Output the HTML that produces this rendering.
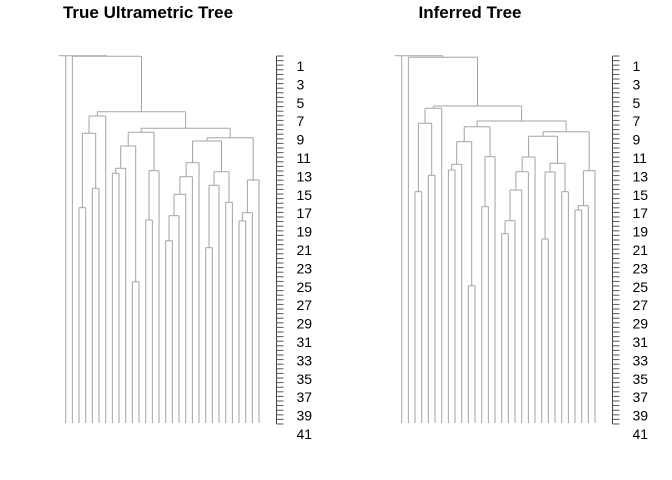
<!DOCTYPE html>
<html><head><meta charset="utf-8"><style>
html,body{margin:0;padding:0;background:#fff;}
svg{display:block;font-family:"Liberation Sans",sans-serif;}
</style></head><body>
<svg id="chart" width="672" height="480" viewBox="0 0 672 480">
<text x="148" y="18" text-anchor="middle" font-size="17" font-weight="bold">True Ultrametric Tree</text>
<text x="470" y="18" text-anchor="middle" font-size="17" font-weight="bold">Inferred Tree</text>
<g id="leftTree"></g>
<g id="rightTree"></g>
<g id="leftAxis"></g>
<g id="rightAxis"></g>
</svg>
<script>
// merge structure (R hclust convention: negative = leaf, positive = merge row)
const mergeLeft  = [-3,-5,1,3,-8,5,-11,6,-13,9,8,-16,12,13,14,15,-22,17,-25,18,16,-27,22,23,21,11,4,-2,-1];
const mergeRight = [-4,-6,2,-7,-9,-10,-12,7,-14,-15,10,-17,-18,-19,-20,-21,-23,-24,-26,19,20,-28,-29,-30,24,25,26,27,28];
const heightsTrue = [215.3,234.7,289.7,307,249.7,254.7,141.3,277,203,252.3,290.7,182.3,207.3,228.7,246.3,260.3,175.3,237.7,220.7,251.3,282,202,210.3,243,285.3,294.7,311.3,366.7,367.3];
const heightsInferred = [231.3,247.7,299.7,314.7,253,258.7,137.3,281.3,216.3,266.3,296.3,189.3,202.3,233,251.3,266,184,251,231.3,259.7,286.7,213,217.3,252.3,291.3,302,317,365.7,367.3];
const nLeaves = 30;
const axisMin = 1, axisMax = 41;
const axisLabels = [1,3,5,7,9,11,13,15,17,19,21,23,25,27,29,31,33,35,37,39,41];

const NS="http://www.w3.org/2000/svg";
const baseY = 423;
function yScale(h){ return baseY - h; }
function line(g,x1,y1,x2,y2){
  const l=document.createElementNS(NS,'line');
  l.setAttribute('x1',x1);l.setAttribute('y1',y1);l.setAttribute('x2',x2);l.setAttribute('y2',y2);
  l.setAttribute('stroke','#a3a3a3');l.setAttribute('stroke-width','1');
  g.appendChild(l);return l;
}
function drawTree(g, heights, x0){
  const xScale = i => x0 + i*6.667;
  const nodeX=[], nodeH=[];
  function childPos(c){
    if(c<0) return [xScale(-c-1), 0];
    return [nodeX[c-1], heights[c-1]];
  }
  for(let k=0;k<mergeLeft.length;k++){
    const [xl,hl]=childPos(mergeLeft[k]);
    const [xr,hr]=childPos(mergeRight[k]);
    const h=heights[k], y=yScale(h);
    const hz=line(g,xl,y,xr,y);
    
    
    const v1=line(g,xl,y,xl,yScale(hl));
    
    
    const v2=line(g,xr,y,xr,yScale(hr));
    
    
    nodeX.push((xl+xr)/2); nodeH.push(h);
  }
  const last=mergeLeft.length-1;
  const rootLeftX = xScale(0);
  const st=line(g,rootLeftX-7,yScale(heights[last]),rootLeftX,yScale(heights[last]));
  
  
}
function drawAxis(g, ax){
  const ys = v => 56 + (v-axisMin)*(424-56)/(axisMax-axisMin);
  const a=line(g,ax,ys(axisMin),ax,ys(axisMax));
  a.setAttribute('stroke','#444');
  
  
  for(let v=axisMin; v<=axisMax; v+=0.5){
    const t=line(g,ax,ys(v),ax+7,ys(v));
    t.setAttribute('stroke','#555');
    
    
  }
  axisLabels.forEach(v=>{
    const t=document.createElementNS(NS,'text');
    t.setAttribute('x',ax+20);t.setAttribute('y',ys(v)+15);
    t.setAttribute('font-size','14');t.setAttribute('fill','#000');
    t.textContent=v;
    
    
    g.appendChild(t);
  });
}
drawTree(document.getElementById('leftTree'), heightsTrue, 65.7);
drawTree(document.getElementById('rightTree'), heightsInferred, 401.7);
drawAxis(document.getElementById('leftAxis'), 276.5);
drawAxis(document.getElementById('rightAxis'), 612.5);
</script>
</body></html>
